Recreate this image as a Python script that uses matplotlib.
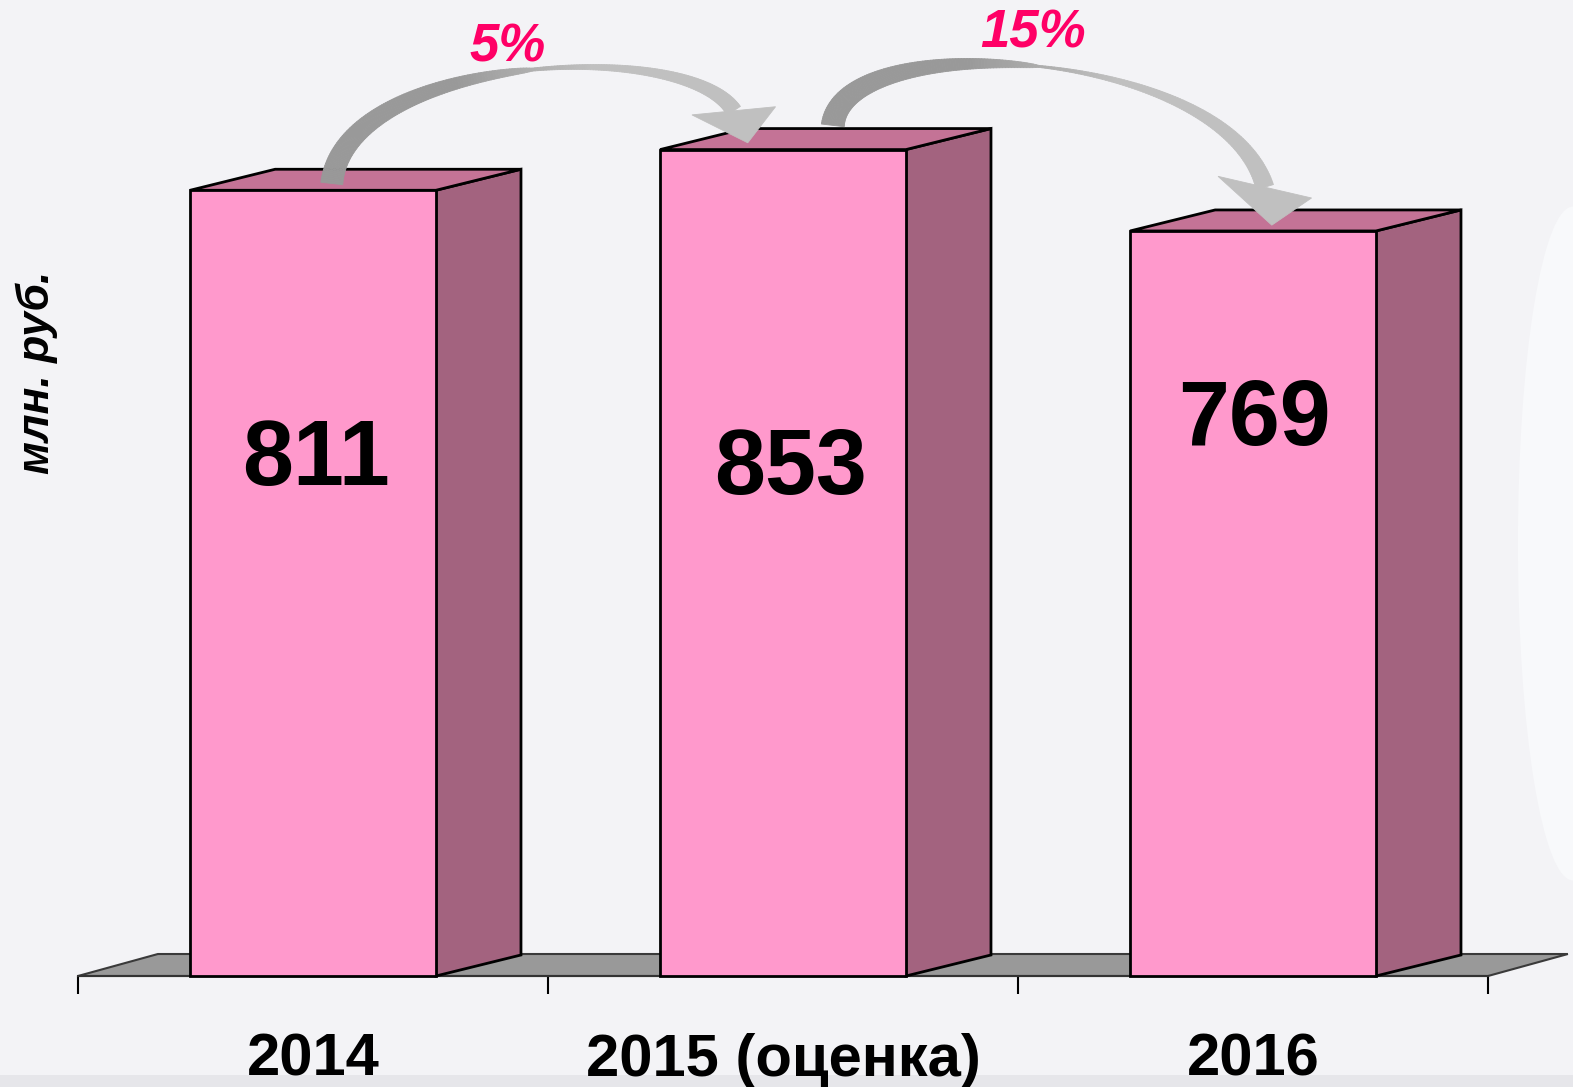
import numpy as np
import matplotlib
matplotlib.use("Agg")
import matplotlib.pyplot as plt
from matplotlib.patches import Polygon, Rectangle, Ellipse
from matplotlib.collections import PolyCollection
from matplotlib.transforms import IdentityTransform
import matplotlib.colors as mcolors

# ---------------- data ----------------
categories = ["2014", "2015 (оценка)", "2016"]
values = [811, 853, 769]
growth_labels = ["5%", "15%"]
unit_label = "млн. руб."

# ---------------- style ----------------
FONT = "Liberation Sans"
BG = "#F3F3F6"
FRONT = "#FF99CC"
SIDE = "#A3637F"
TOP = "#C47396"
FLOOR = "#999999"
PCT_COLOR = "#FF0066"

W, H = 1573, 1087
fig = plt.figure(figsize=(W / 100, H / 100), dpi=100, facecolor=BG)
ax = fig.add_axes([78 / W, 111 / H, 1410 / W, 976 / H])
ax.set_xlim(-0.5, 2.5)
ax.set_ylim(0, 1007.4)
ax.patch.set_visible(False)

# subtle background decorations
fig.add_artist(Ellipse((1.0, 0.50), 0.07, 0.62, transform=fig.transFigure,
                       facecolor="#F8F9FB", edgecolor="none", zorder=-5))
fig.add_artist(Rectangle((0, 0), 1, 12 / H, transform=fig.transFigure,
                         facecolor="#E6E6EA", edgecolor="none", zorder=-5))

bar_w = 0.523
dx, dy = 0.181, 21.7          # 3D depth offset (category units, value units)
fdx, fdy = 0.17, 22.7         # floor depth

# floor
floor = Polygon([(-0.5, 0), (2.5, 0), (2.5 + fdx, fdy), (-0.5 + fdx, fdy)],
                closed=True, facecolor=FLOOR, edgecolor="#3a3a3a", lw=1.5,
                zorder=1, clip_on=False)
ax.add_patch(floor)

# bars
x = np.arange(len(values))
for xi, v in zip(x, values):
    x0, x1 = xi - bar_w / 2, xi + bar_w / 2
    ax.add_patch(Polygon([(x1, 0), (x1 + dx, dy), (x1 + dx, v + dy), (x1, v)],
                         closed=True, facecolor=SIDE, edgecolor="black", lw=2,
                         zorder=3, clip_on=False))
    ax.add_patch(Polygon([(x0, v), (x1, v), (x1 + dx, v + dy), (x0 + dx, v + dy)],
                         closed=True, facecolor=TOP, edgecolor="black", lw=2,
                         zorder=3, clip_on=False))
    ax.bar(xi, v, width=bar_w, color=FRONT, edgecolor="black", lw=2,
           zorder=4, clip_on=False)

# value labels
label_y = [507, 497, 548]
label_dx = [0.006, 0.015, 0.004]
for xi, v, ly, ldx in zip(x, values, label_y, label_dx):
    ax.text(xi + ldx, ly, f"{v}", ha="center", va="baseline",
            fontsize=66, fontweight="bold", family=FONT, zorder=6)

# axes: ticks & labels
for s in ["left", "right", "top"]:
    ax.spines[s].set_visible(False)
ax.spines["bottom"].set_color("#333333")
ax.spines["bottom"].set_linewidth(1.5)
ax.spines["bottom"].set_zorder(2)
ax.set_yticks([])
ax.set_xticks(np.arange(len(values) + 1) - 0.5)
ax.set_xticklabels([])
ax.tick_params(axis="x", which="major", length=13, width=1.5, color="black",
               direction="out")
ax.set_xticks(x, minor=True)
ax.set_xticklabels(categories, minor=True, fontsize=43, fontweight="bold",
                   family=FONT)
ax.tick_params(axis="x", which="minor", length=0, pad=41)

# unit label
fig.text(37 / W, 1 - 372 / H, unit_label, rotation=90, ha="center", va="center",
         fontsize=32, fontweight="bold", fontstyle="italic", family=FONT)


# ---------------- curved growth arrows ----------------
def bezier(P0, P1, P2, P3, t):
    t = t[:, None]
    return ((1 - t) ** 3) * P0 + 3 * ((1 - t) ** 2) * t * P1 + \
        3 * (1 - t) * t ** 2 * P2 + t ** 3 * P3


def curved_arrow(start, tip, c1, c2, base_off, base_dir, w_tail, w_min, w_end,
                 t_min, head_half, dark="#999999", light="#C0C0C0"):
    P0 = np.array(ax.transData.transform(start))
    T = np.array(ax.transData.transform(tip))
    P3 = T + np.array(base_off)
    P1 = P0 + np.array(c1)
    P2 = P3 + np.array(c2)
    n = 200
    t = np.linspace(0, 1, n)
    pts = bezier(P0, P1, P2, P3, t)
    d = np.gradient(pts, axis=0)
    d /= np.linalg.norm(d, axis=1)[:, None]
    nrm = np.column_stack([-d[:, 1], d[:, 0]])
    s1 = np.clip(t / t_min, 0, 1)
    s2 = np.clip((t - t_min) / (1 - t_min), 0, 1)
    w = np.where(t < t_min,
                 w_min + (w_tail - w_min) * (1 - s1) ** 0.6,
                 w_min + (w_end - w_min) * s2 ** 1.2)
    left = pts + nrm * (w / 2)[:, None]
    right = pts - nrm * (w / 2)[:, None]
    cd = np.array(mcolors.to_rgb(dark))
    cl = np.array(mcolors.to_rgb(light))
    polys, cols = [], []
    for i in range(n - 1):
        polys.append([left[i], left[i + 1], right[i + 1], right[i]])
        f = np.clip((t[i] - 0.38) / 0.25, 0, 1)
        cols.append(cd + (cl - cd) * f)
    coll = PolyCollection(polys, facecolors=cols, edgecolors=cols,
                          linewidths=0.6, transform=IdentityTransform(),
                          zorder=7, clip_on=False)
    fig.add_artist(coll)
    # head (base orientation given explicitly, like the original's shape)
    u = np.array(base_dir, dtype=float)
    u /= np.linalg.norm(u)
    head = Polygon([P3 - u * head_half, T, P3 + u * head_half], closed=True,
                   facecolor=light, edgecolor=light, lw=0.6,
                   transform=IdentityTransform(), zorder=7, clip_on=False)
    fig.add_artist(head)


# arrow from 2014 to 2015
curved_arrow(start=(x[0] + 0.04, values[0] + 7), tip=(x[1] - 0.075, values[1] + 7),
             c1=(13, 128), c2=(-48, 75), base_off=(-14, 32), base_dir=(82, 8),
             w_tail=22, w_min=3, w_end=16, t_min=0.52, head_half=42)
# arrow from 2015 to 2016
curved_arrow(start=(x[1] + 0.106, values[1] + 25), tip=(x[2] + 0.04, values[2] + 6),
             c1=(10, 100), c2=(-40, 140), base_off=(-7, 38), base_dir=(95, -22),
             w_tail=23, w_min=2, w_end=18, t_min=0.5, head_half=48)

# growth percentages
pct_pos = [(0.415, 958), (1.532, 973)]
for lab, (px_, py_) in zip(growth_labels, pct_pos):
    ax.text(px_, py_, lab, ha="center", va="center", fontsize=38,
            fontweight="bold", fontstyle="italic", color=PCT_COLOR,
            family=FONT, zorder=8, clip_on=False)

fig.savefig("out.png", dpi=100, facecolor=BG)
